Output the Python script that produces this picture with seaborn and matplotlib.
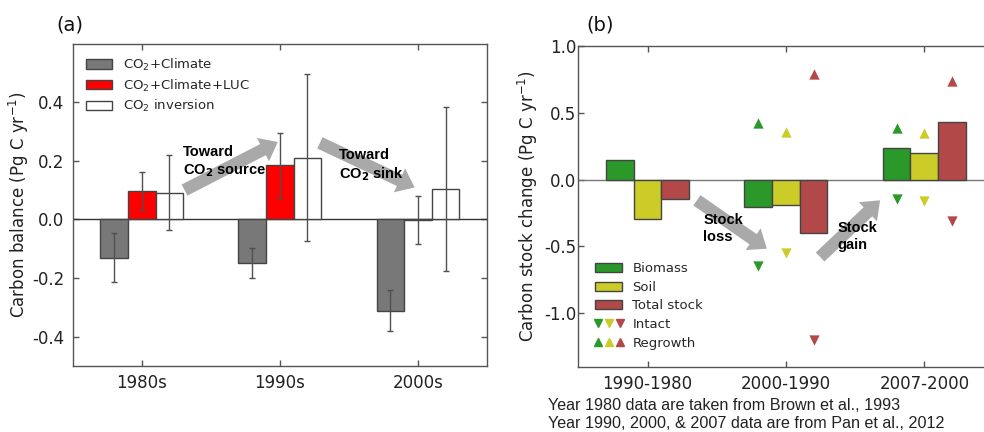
import numpy as np
import pandas as pd
import matplotlib
matplotlib.use("Agg")
import matplotlib.pyplot as plt
import seaborn as sns
from matplotlib.lines import Line2D
from matplotlib.patches import Patch
from matplotlib.legend_handler import HandlerTuple

# ---- panel (a): carbon balance by decade ----
decades = ["1980s", "1990s", "2000s"]
runs_a = [r"CO$_2$+Climate", r"CO$_2$+Climate+LUC", r"CO$_2$ inversion"]
co2_climate = [-0.13, -0.149, -0.312]
co2_climate_err = [0.085, 0.052, 0.070]
co2_climate_luc = [0.097, 0.184, -0.003]
co2_climate_luc_err = [0.065, 0.110, 0.082]
co2_inversion = [0.091, 0.211, 0.104]
co2_inversion_err = [0.128, 0.286, 0.280]
colors_a = ["#787878", "#ff0000", "#ffffff"]

# ---- panel (b): carbon stock change by period ----
periods = ["1990-1980", "2000-1990", "2007-2000"]
pools = ["Biomass", "Soil", "Total stock"]
biomass = [0.145, -0.207, 0.237]
soil = [-0.292, -0.187, 0.199]
total_stock = [-0.147, -0.400, 0.434]
biomass_intact = [np.nan, -0.647, -0.147]
biomass_regrowth = [np.nan, 0.424, 0.386]
soil_intact = [np.nan, -0.549, -0.162]
soil_regrowth = [np.nan, 0.356, 0.349]
total_intact = [np.nan, -1.198, -0.310]
total_regrowth = [np.nan, 0.788, 0.736]
colors_b = ["#2a992a", "#cccc29", "#b34848"]

sns.set_style("ticks")
plt.rcParams["font.family"] = ["DejaVu Sans"]
plt.rcParams["axes.unicode_minus"] = False
plt.rcParams["axes.edgecolor"] = "#555555"
plt.rcParams["axes.linewidth"] = 1.0

fig = plt.figure(figsize=(9.84, 4.32), dpi=100)
ax_a = fig.add_axes([0.0739, 0.1528, 0.4210, 0.7465])
ax_b = fig.add_axes([0.5877, 0.1512, 0.4220, 0.7423])

arrow_props = dict(arrowstyle="simple,head_width=1.9,head_length=1.2,tail_width=0.9",
                   mutation_scale=10, color="#a9a9a9", lw=0, shrinkA=0, shrinkB=0)
bold_font = dict(family="Liberation Sans", fontweight="bold", fontsize=10.5,
                 color="black", va="center", ha="left", linespacing=1.25)


def style_axes(ax, pad):
    ax.set_xlabel("")
    ax.set_xlim(-0.5, 2.5)
    ax.tick_params(which="both", direction="in", top=True, right=True,
                   length=4, width=1, color="#555555", labelcolor="#222222",
                   labelsize=12)
    ax.tick_params(axis="x", pad=6)
    ax.tick_params(axis="y", pad=pad)
    for sp in ax.spines.values():
        sp.set_visible(True)
        sp.set_color("#555555")


# ---------- (a) ----------
df_a = pd.DataFrame({
    "decade": decades * 3,
    "balance": co2_climate + co2_climate_luc + co2_inversion,
    "run": [r for r in runs_a for _ in decades],
})
sns.barplot(df_a, x="decade", y="balance", hue="run", hue_order=runs_a,
            palette=colors_a, width=0.6, errorbar=None, saturation=1,
            edgecolor="#444444", linewidth=1, ax=ax_a, zorder=2)
ax_a.axhline(0, color="#333333", lw=1, zorder=1)
for cont, vals, errs in zip(ax_a.containers,
                            [co2_climate, co2_climate_luc, co2_inversion],
                            [co2_climate_err, co2_climate_luc_err, co2_inversion_err]):
    xs = [b.get_x() + b.get_width() / 2 for b in cont]
    ax_a.errorbar(xs, vals, yerr=errs, fmt="none", ecolor="#505050",
                  elinewidth=1, capsize=2.5, capthick=1, zorder=3)

handles, labels = ax_a.get_legend_handles_labels()
ax_a.legend(handles, labels, loc="upper left", frameon=False, fontsize=9.5,
            handlelength=2.0, handleheight=0.7, labelspacing=0.35,
            borderaxespad=0.6, borderpad=0.4)
style_axes(ax_a, pad=6)
ax_a.set_ylim(-0.5, 0.6)
ax_a.set_yticks([-0.4, -0.2, 0.0, 0.2, 0.4])
ax_a.set_yticklabels(["-0.4", "-0.2", "0.0", "0.2", "0.4"])
ax_a.set_ylabel(r"Carbon balance (Pg C yr$^{-1}$)", fontsize=12, color="#222222",
                labelpad=1)

ax_a.annotate("", xy=(0.985, 0.264), xytext=(0.31, 0.10), arrowprops=arrow_props, zorder=1)
ax_a.annotate("", xy=(1.976, 0.109), xytext=(1.29, 0.261), arrowprops=arrow_props, zorder=1)
ax_a.text(0.30, 0.195, "Toward\nCO$_\\mathbf{2}$ source", zorder=4, **bold_font)
ax_a.text(1.43, 0.183, "Toward\nCO$_\\mathbf{2}$ sink", zorder=4, **bold_font)

# ---------- (b) ----------
df_b = pd.DataFrame({
    "period": periods * 3,
    "change": biomass + soil + total_stock,
    "pool": [p for p in pools for _ in periods],
})
sns.barplot(df_b, x="period", y="change", hue="pool", hue_order=pools,
            palette=colors_b, width=0.6, errorbar=None, saturation=1,
            edgecolor="#444444", linewidth=1, ax=ax_b, legend=False, zorder=2)
ax_b.axhline(0, color="#777777", lw=1, zorder=1)
for cont, col, intact, regrowth in zip(ax_b.containers, colors_b,
                                       [biomass_intact, soil_intact, total_intact],
                                       [biomass_regrowth, soil_regrowth, total_regrowth]):
    xs = [b.get_x() + b.get_width() / 2 for b in cont]
    sns.scatterplot(x=xs, y=intact, marker="v", color=col, s=55, linewidth=0,
                    ax=ax_b, zorder=3)
    sns.scatterplot(x=xs, y=regrowth, marker="^", color=col, s=55, linewidth=0,
                    ax=ax_b, zorder=3)

style_axes(ax_b, pad=1.5)
ax_b.set_ylim(-1.4, 1.0)
ax_b.set_yticks([-1.0, -0.5, 0.0, 0.5, 1.0])
ax_b.set_yticklabels(["-1.0", "-0.5", "0.0", "0.5", "1.0"])
ax_b.set_ylabel(r"Carbon stock change (Pg C yr$^{-1}$)", fontsize=12, color="#222222",
                labelpad=3)

pool_handles = [Patch(facecolor=c, edgecolor="#444444", linewidth=1) for c in colors_b]
intact_handle = tuple(Line2D([], [], marker="v", color=c, linestyle="none", markersize=6)
                      for c in colors_b)
regrowth_handle = tuple(Line2D([], [], marker="^", color=c, linestyle="none", markersize=6)
                        for c in colors_b)
ax_b.legend(pool_handles + [intact_handle, regrowth_handle],
            pools + ["Intact", "Regrowth"],
            handler_map={tuple: HandlerTuple(ndivide=None, pad=0.5)},
            loc="lower left", frameon=False, fontsize=9.5, handlelength=2.0,
            handleheight=0.7, labelspacing=0.42, borderaxespad=0.9, borderpad=0.4)

ax_b.annotate("", xy=(0.862, -0.517), xytext=(0.357, -0.155), arrowprops=arrow_props, zorder=1)
ax_b.annotate("", xy=(1.68, -0.155), xytext=(1.247, -0.579), arrowprops=arrow_props, zorder=1)
ax_b.text(0.404, -0.366, "Stock\nloss", zorder=4, **bold_font)
ax_b.text(1.372, -0.428, "Stock\ngain", zorder=4, **bold_font)

# panel tags and source notes
fig.text(70 / 984, 1 - 25 / 432, "(a)", fontsize=14, ha="center", va="center", color="#111111")
fig.text(600 / 984, 1 - 25 / 432, "(b)", fontsize=14, ha="center", va="center", color="#111111")
note_font = dict(family="Liberation Sans", fontsize=11.6, color="#222222", ha="left", va="center")
fig.text(548 / 984, 1 - 406 / 432, "Year 1980 data are taken from Brown et al., 1993", **note_font)
fig.text(548 / 984, 1 - 424 / 432, "Year 1990, 2000, & 2007 data are from Pan et al., 2012", **note_font)

fig.savefig("out.png", dpi=100, facecolor="white")
